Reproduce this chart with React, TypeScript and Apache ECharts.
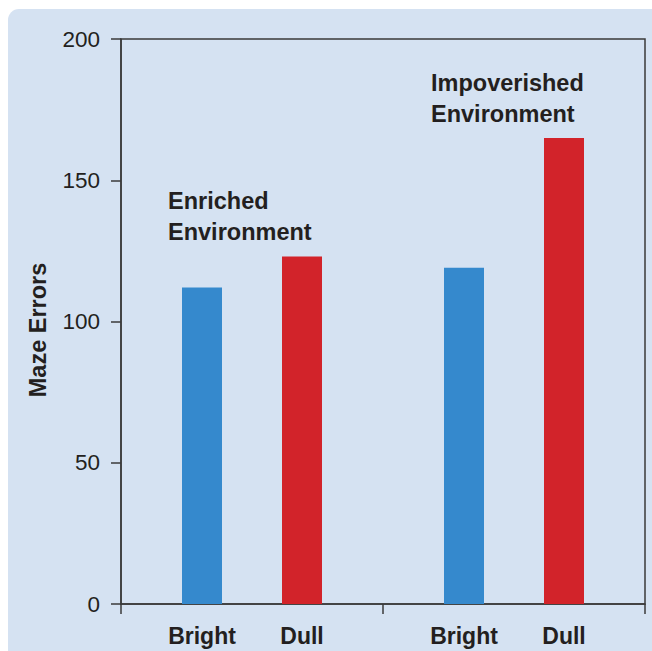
import React, { useEffect, useRef } from "react";
import * as echarts from "echarts";

const groups = ["Enriched Environment", "Impoverished Environment"];
const brightValues = [112, 119];
const dullValues = [123, 165];
const seriesNames = ["Bright", "Dull"];
const yTicks = { min: 0, max: 200, interval: 50 };
const groupLabels = [["Enriched", "Environment"], ["Impoverished", "Environment"]];
const yTitle = "Maze Errors";

const FONT = "'Liberation Sans', Arial, Helvetica, sans-serif";
const DARK = "#231f20";

export default function App() {
  const ref = useRef<HTMLDivElement>(null);
  useEffect(() => {
    if (!ref.current) return;
    const chart = echarts.init(ref.current, undefined, { renderer: "svg" });
    const barLabel = (text: string) => ({
      show: true,
      position: "bottom",
      distance: 20,
      formatter: text,
      fontFamily: FONT,
      fontWeight: "bold",
      fontSize: 23,
      color: DARK,
    });
    chart.setOption({
      animation: false,
      backgroundColor: "#ffffff",
      graphic: [
        {
          type: "rect",
          z: -10,
          silent: true,
          shape: { x: 8, y: 9, width: 700, height: 700, r: [11, 0, 0, 0] },
          style: { fill: "#d5e2f2" },
        },
        {
          type: "text",
          x: 38,
          y: 330,
          rotation: Math.PI / 2,
          style: {
            text: yTitle,
            align: "center",
            verticalAlign: "middle",
            font: `bold 23.5px ${FONT}`,
            fill: DARK,
          },
        },
        {
          type: "text",
          x: 168,
          y: 185,
          style: {
            text: groupLabels[0].join("\n"),
            verticalAlign: "top",
            lineHeight: 31,
            font: `bold 23.5px ${FONT}`,
            fill: DARK,
          },
        },
        {
          type: "text",
          x: 431,
          y: 67,
          style: {
            text: groupLabels[1].join("\n"),
            verticalAlign: "top",
            lineHeight: 31,
            font: `bold 23.5px ${FONT}`,
            fill: DARK,
          },
        },
      ],
      grid: {
        left: 121,
        top: 39,
        right: 7,
        bottom: 47,
        show: true,
        borderColor: "#3a3a3a",
        borderWidth: 1.5,
        backgroundColor: "transparent",
      },
      xAxis: {
        type: "category",
        data: groups,
        axisLabel: { show: false },
        axisLine: { lineStyle: { color: "#3a3a3a", width: 1.5 } },
        axisTick: { show: true, length: 10, lineStyle: { color: "#3a3a3a", width: 1.5 } },
        splitLine: { show: false },
      },
      yAxis: {
        type: "value",
        min: yTicks.min,
        max: yTicks.max,
        interval: yTicks.interval,
        axisLine: { show: true, lineStyle: { color: "#3a3a3a", width: 1.5 } },
        axisTick: { show: true, length: 10, lineStyle: { color: "#3a3a3a", width: 1.5 } },
        splitLine: { show: false },
        axisLabel: {
          margin: 21,
          fontFamily: FONT,
          fontSize: 22.5,
          color: DARK,
        },
      },
      series: [
        {
          name: seriesNames[0],
          type: "bar",
          data: brightValues,
          barWidth: 40,
          barGap: "150%",
          itemStyle: { color: "#3589cd" },
          label: barLabel(seriesNames[0]),
        },
        {
          name: seriesNames[1],
          type: "bar",
          data: dullValues,
          barWidth: 40,
          itemStyle: { color: "#d2232a" },
          label: barLabel(seriesNames[1]),
        },
      ],
    });
    return () => chart.dispose();
  }, []);
  return (
    <div
      ref={ref}
      style={{ position: "absolute", left: 0, top: 0, width: 652, height: 651 }}
    />
  );
}
